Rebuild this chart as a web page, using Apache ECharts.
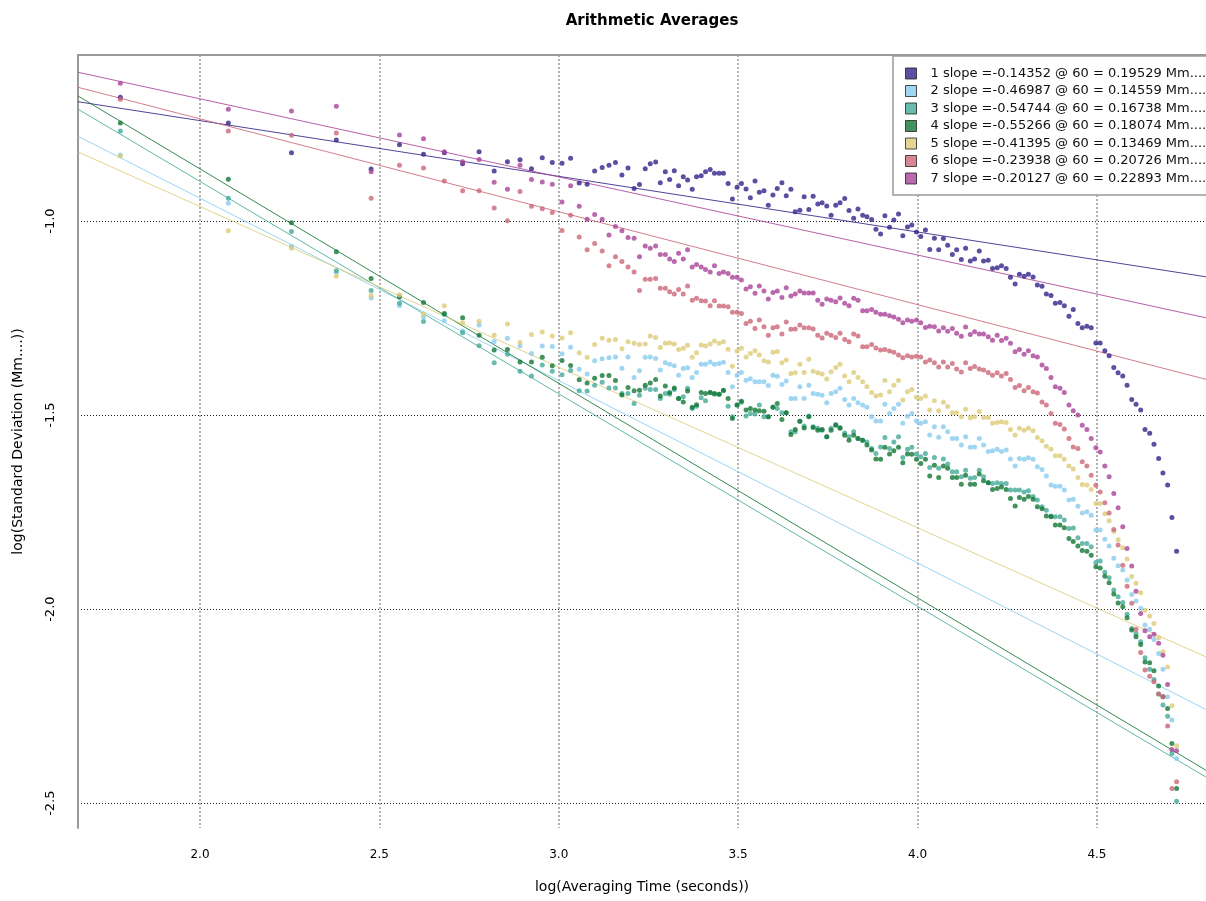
<!DOCTYPE html>
<html>
<head>
<meta charset="utf-8">
<title>Arithmetic Averages</title>
<script src="https://cdn.jsdelivr.net/npm/echarts@6/dist/echarts.min.js"></script>
<style>
  html, body { margin: 0; padding: 0; background: #fff; }
  #chart { width: 1206px; height: 901px; }
</style>
</head>
<body>
<div id="chart"></div>
<script>
// log10 of averaging time (seconds), shared by all seven series
const logTime = [
  1.778, 2.079, 2.255, 2.380, 2.477, 2.556, 2.623, 2.681, 2.732, 2.778,
  2.820, 2.857, 2.892, 2.924, 2.954, 2.982, 3.009, 3.033, 3.057, 3.079,
  3.100, 3.121, 3.140, 3.158, 3.176, 3.193, 3.210, 3.225, 3.241, 3.255,
  3.270, 3.283, 3.297, 3.309, 3.322, 3.334, 3.347, 3.359, 3.372, 3.384,
  3.397, 3.409, 3.422, 3.434, 3.447, 3.459, 3.472, 3.484, 3.497, 3.509,
  3.522, 3.534, 3.547, 3.559, 3.572, 3.584, 3.597, 3.609, 3.622, 3.634,
  3.647, 3.659, 3.672, 3.684, 3.697, 3.709, 3.722, 3.734, 3.747, 3.759,
  3.772, 3.784, 3.797, 3.809, 3.822, 3.834, 3.847, 3.859, 3.872, 3.884,
  3.897, 3.909, 3.922, 3.934, 3.947, 3.959, 3.972, 3.984, 3.997, 4.009,
  4.022, 4.034, 4.047, 4.059, 4.072, 4.084, 4.097, 4.109, 4.122, 4.134,
  4.147, 4.159, 4.172, 4.184, 4.197, 4.209, 4.222, 4.234, 4.247, 4.259,
  4.272, 4.284, 4.297, 4.309, 4.322, 4.334, 4.347, 4.359, 4.372, 4.384,
  4.397, 4.409, 4.422, 4.434, 4.447, 4.459, 4.472, 4.484, 4.497, 4.509,
  4.522, 4.534, 4.547, 4.559, 4.572, 4.584, 4.597, 4.609, 4.622, 4.634,
  4.647, 4.659, 4.672, 4.684, 4.697, 4.709, 4.722
];

// log10 of standard deviation, one array per series
const sd1 = [
  -0.681, -0.747, -0.824, -0.791, -0.866, -0.803, -0.828, -0.824, -0.852, -0.821,
  -0.871, -0.847, -0.842, -0.865, -0.837, -0.849, -0.851, -0.838, -0.902, -0.905,
  -0.871, -0.862, -0.856, -0.849, -0.881, -0.863, -0.916, -0.906, -0.865, -0.852,
  -0.848, -0.901, -0.873, -0.893, -0.870, -0.909, -0.886, -0.894, -0.918, -0.886,
  -0.883, -0.873, -0.867, -0.877, -0.877, -0.877, -0.903, -0.943, -0.913, -0.903,
  -0.917, -0.940, -0.897, -0.926, -0.922, -0.959, -0.933, -0.916, -0.901, -0.935,
  -0.918, -0.976, -0.972, -0.937, -0.970, -0.936, -0.956, -0.953, -0.961, -0.985,
  -0.959, -0.953, -0.942, -0.973, -0.993, -0.969, -0.985, -0.989, -0.996, -1.021,
  -1.033, -0.986, -1.016, -0.997, -0.982, -1.038, -1.015, -1.010, -1.028, -1.040,
  -1.023, -1.073, -1.044, -1.074, -1.045, -1.062, -1.086, -1.074, -1.099, -1.070,
  -1.103, -1.098, -1.077, -1.103, -1.101, -1.122, -1.120, -1.115, -1.122, -1.145,
  -1.162, -1.137, -1.142, -1.137, -1.144, -1.165, -1.168, -1.188, -1.192, -1.212,
  -1.210, -1.218, -1.245, -1.228, -1.264, -1.275, -1.271, -1.275, -1.314, -1.314,
  -1.334, -1.347, -1.377, -1.391, -1.399, -1.423, -1.460, -1.472, -1.487, -1.537,
  -1.547, -1.575, -1.612, -1.649, -1.680, -1.764, -1.851
];
const sd2 = [
  -0.830, -0.954, -1.065, -1.132, -1.198, -1.218, -1.247, -1.257, -1.283, -1.268,
  -1.310, -1.302, -1.322, -1.341, -1.322, -1.323, -1.342, -1.325, -1.382, -1.394,
  -1.360, -1.355, -1.352, -1.350, -1.379, -1.350, -1.403, -1.386, -1.351, -1.350,
  -1.354, -1.384, -1.365, -1.369, -1.373, -1.397, -1.380, -1.378, -1.403, -1.390,
  -1.369, -1.369, -1.363, -1.369, -1.367, -1.364, -1.390, -1.427, -1.397, -1.390,
  -1.410, -1.406, -1.414, -1.414, -1.414, -1.424, -1.397, -1.400, -1.421, -1.412,
  -1.457, -1.457, -1.427, -1.457, -1.423, -1.444, -1.446, -1.449, -1.468, -1.444,
  -1.440, -1.431, -1.460, -1.474, -1.457, -1.468, -1.474, -1.480, -1.504, -1.515,
  -1.515, -1.472, -1.496, -1.483, -1.472, -1.521, -1.503, -1.496, -1.515, -1.521,
  -1.517, -1.551, -1.530, -1.557, -1.530, -1.543, -1.560, -1.560, -1.577, -1.556,
  -1.583, -1.582, -1.560, -1.577, -1.594, -1.592, -1.588, -1.594, -1.590, -1.613,
  -1.631, -1.612, -1.614, -1.610, -1.614, -1.633, -1.640, -1.657, -1.680, -1.683,
  -1.683, -1.693, -1.719, -1.717, -1.735, -1.752, -1.749, -1.758, -1.796, -1.796,
  -1.820, -1.837, -1.869, -1.888, -1.899, -1.925, -1.962, -1.979, -1.998, -2.041,
  -2.052, -2.078, -2.114, -2.155, -2.226, -2.286, -2.385
];
const sd3 = [
  -0.768, -0.941, -1.027, -1.128, -1.179, -1.212, -1.259, -1.241, -1.288, -1.321,
  -1.365, -1.343, -1.387, -1.399, -1.371, -1.387, -1.396, -1.385, -1.437, -1.438,
  -1.423, -1.415, -1.430, -1.430, -1.444, -1.444, -1.470, -1.449, -1.431, -1.434,
  -1.434, -1.457, -1.444, -1.446, -1.434, -1.457, -1.453, -1.431, -1.483, -1.477,
  -1.455, -1.463, -1.442, -1.446, -1.446, -1.437, -1.477, -1.504, -1.474, -1.467,
  -1.502, -1.496, -1.497, -1.474, -1.504, -1.504, -1.479, -1.483, -1.494, -1.494,
  -1.543, -1.543, -1.516, -1.528, -1.502, -1.530, -1.534, -1.539, -1.556, -1.534,
  -1.524, -1.532, -1.546, -1.556, -1.543, -1.560, -1.565, -1.569, -1.586, -1.599,
  -1.582, -1.558, -1.586, -1.569, -1.556, -1.609, -1.588, -1.583, -1.600, -1.607,
  -1.599, -1.635, -1.609, -1.637, -1.613, -1.626, -1.646, -1.646, -1.659, -1.642,
  -1.663, -1.661, -1.642, -1.659, -1.674, -1.676, -1.674, -1.676, -1.676, -1.693,
  -1.693, -1.693, -1.698, -1.695, -1.710, -1.719, -1.736, -1.745, -1.760, -1.762,
  -1.762, -1.770, -1.792, -1.791, -1.816, -1.831, -1.831, -1.839, -1.880, -1.876,
  -1.905, -1.919, -1.951, -1.968, -1.983, -2.013, -2.050, -2.063, -2.084, -2.125,
  -2.155, -2.181, -2.219, -2.247, -2.276, -2.372, -2.495
];
const sd4 = [
  -0.747, -0.892, -1.004, -1.079, -1.148, -1.195, -1.210, -1.238, -1.249, -1.294,
  -1.332, -1.331, -1.363, -1.363, -1.351, -1.373, -1.359, -1.372, -1.409, -1.417,
  -1.405, -1.398, -1.398, -1.411, -1.448, -1.429, -1.437, -1.436, -1.423, -1.417,
  -1.408, -1.451, -1.425, -1.442, -1.430, -1.457, -1.466, -1.438, -1.480, -1.473,
  -1.442, -1.444, -1.442, -1.444, -1.446, -1.436, -1.457, -1.509, -1.474, -1.464,
  -1.487, -1.483, -1.487, -1.489, -1.490, -1.504, -1.480, -1.470, -1.511, -1.494,
  -1.550, -1.537, -1.516, -1.533, -1.504, -1.532, -1.539, -1.537, -1.556, -1.539,
  -1.526, -1.534, -1.552, -1.565, -1.552, -1.560, -1.565, -1.577, -1.590, -1.613,
  -1.614, -1.583, -1.600, -1.592, -1.583, -1.623, -1.600, -1.601, -1.614, -1.625,
  -1.614, -1.657, -1.629, -1.661, -1.631, -1.637, -1.661, -1.661, -1.678, -1.655,
  -1.678, -1.678, -1.652, -1.669, -1.674, -1.692, -1.689, -1.685, -1.692, -1.715,
  -1.734, -1.712, -1.717, -1.710, -1.717, -1.736, -1.741, -1.760, -1.762, -1.783,
  -1.783, -1.790, -1.818, -1.826, -1.837, -1.849, -1.851, -1.861, -1.891, -1.894,
  -1.915, -1.932, -1.961, -1.984, -1.994, -2.022, -2.054, -2.071, -2.091, -2.136,
  -2.138, -2.159, -2.198, -2.226, -2.256, -2.346, -2.462
];
const sd5 = [
  -0.832, -1.025, -1.070, -1.142, -1.192, -1.190, -1.240, -1.218, -1.262, -1.258,
  -1.294, -1.265, -1.313, -1.292, -1.286, -1.296, -1.301, -1.288, -1.339, -1.351,
  -1.318, -1.302, -1.307, -1.305, -1.329, -1.311, -1.315, -1.318, -1.317, -1.296,
  -1.300, -1.326, -1.315, -1.314, -1.317, -1.331, -1.328, -1.320, -1.351, -1.339,
  -1.319, -1.322, -1.317, -1.309, -1.315, -1.311, -1.330, -1.374, -1.335, -1.328,
  -1.350, -1.341, -1.334, -1.345, -1.360, -1.363, -1.338, -1.336, -1.365, -1.358,
  -1.393, -1.391, -1.369, -1.390, -1.356, -1.387, -1.391, -1.394, -1.407, -1.388,
  -1.377, -1.369, -1.399, -1.414, -1.390, -1.403, -1.414, -1.427, -1.442, -1.451,
  -1.448, -1.411, -1.440, -1.423, -1.411, -1.461, -1.440, -1.434, -1.454, -1.457,
  -1.451, -1.487, -1.463, -1.489, -1.467, -1.478, -1.494, -1.494, -1.504, -1.485,
  -1.507, -1.504, -1.491, -1.506, -1.506, -1.521, -1.519, -1.517, -1.519, -1.537,
  -1.551, -1.534, -1.539, -1.534, -1.540, -1.558, -1.566, -1.580, -1.588, -1.605,
  -1.605, -1.614, -1.631, -1.639, -1.661, -1.679, -1.680, -1.692, -1.728, -1.728,
  -1.754, -1.772, -1.800, -1.821, -1.842, -1.871, -1.916, -1.933, -1.958, -2.003,
  -2.018, -2.037, -2.074, -2.110, -2.149, -2.249, -2.352
];
const sd6 = [
  -0.686, -0.768, -0.779, -0.773, -0.941, -0.856, -0.863, -0.897, -0.922, -0.922,
  -0.966, -0.999, -0.924, -0.962, -0.968, -0.978, -1.024, -0.985, -1.041, -1.074,
  -1.058, -1.077, -1.115, -1.092, -1.104, -1.118, -1.131, -1.179, -1.150, -1.150,
  -1.148, -1.173, -1.173, -1.182, -1.188, -1.176, -1.188, -1.167, -1.204, -1.199,
  -1.205, -1.206, -1.218, -1.205, -1.219, -1.219, -1.221, -1.235, -1.235, -1.238,
  -1.264, -1.258, -1.277, -1.255, -1.272, -1.294, -1.275, -1.272, -1.291, -1.260,
  -1.279, -1.278, -1.268, -1.275, -1.275, -1.278, -1.294, -1.301, -1.289, -1.294,
  -1.300, -1.289, -1.305, -1.311, -1.291, -1.296, -1.324, -1.324, -1.318, -1.327,
  -1.332, -1.331, -1.335, -1.338, -1.345, -1.352, -1.347, -1.350, -1.348, -1.350,
  -1.363, -1.358, -1.365, -1.376, -1.363, -1.376, -1.367, -1.381, -1.389, -1.365,
  -1.380, -1.375, -1.381, -1.384, -1.390, -1.397, -1.391, -1.399, -1.393, -1.408,
  -1.429, -1.424, -1.437, -1.429, -1.440, -1.443, -1.466, -1.474, -1.496, -1.521,
  -1.524, -1.536, -1.560, -1.582, -1.586, -1.620, -1.631, -1.655, -1.681, -1.698,
  -1.726, -1.752, -1.795, -1.835, -1.887, -1.941, -1.985, -2.052, -2.112, -2.157,
  -2.173, -2.187, -2.219, -2.226, -2.301, -2.462, -2.445
];
const sd7 = [
  -0.645, -0.712, -0.716, -0.704, -0.873, -0.778, -0.788, -0.821, -0.847, -0.841,
  -0.900, -0.918, -0.856, -0.893, -0.899, -0.905, -0.951, -0.909, -0.962, -0.995,
  -0.983, -0.995, -1.036, -1.014, -1.025, -1.042, -1.044, -1.092, -1.064, -1.070,
  -1.064, -1.086, -1.086, -1.098, -1.104, -1.083, -1.098, -1.074, -1.118, -1.112,
  -1.118, -1.125, -1.131, -1.115, -1.135, -1.131, -1.135, -1.145, -1.145, -1.152,
  -1.175, -1.169, -1.186, -1.167, -1.180, -1.201, -1.184, -1.180, -1.197, -1.172,
  -1.193, -1.188, -1.180, -1.185, -1.185, -1.185, -1.204, -1.214, -1.201, -1.204,
  -1.208, -1.198, -1.212, -1.218, -1.199, -1.204, -1.231, -1.231, -1.228, -1.235,
  -1.240, -1.240, -1.244, -1.247, -1.253, -1.262, -1.255, -1.258, -1.255, -1.262,
  -1.274, -1.271, -1.272, -1.283, -1.275, -1.284, -1.277, -1.289, -1.297, -1.273,
  -1.292, -1.285, -1.291, -1.291, -1.298, -1.307, -1.294, -1.308, -1.302, -1.315,
  -1.337, -1.331, -1.343, -1.334, -1.347, -1.350, -1.371, -1.380, -1.403, -1.427,
  -1.431, -1.442, -1.474, -1.489, -1.500, -1.526, -1.537, -1.560, -1.584, -1.595,
  -1.631, -1.659, -1.702, -1.739, -1.788, -1.844, -1.889, -1.954, -2.011, -2.056,
  -2.071, -2.065, -2.088, -2.119, -2.194, -2.362, -2.365
];

// fitted lines, as printed in the legend
const slopes = [-0.14352, -0.46987, -0.54744, -0.55266, -0.41395, -0.23938, -0.20127];
const at60 = [0.19529, 0.14559, 0.16738, 0.18074, 0.13469, 0.20726, 0.22893];
const colors = ['#332288', '#88ccee', '#44aa99', '#117733', '#ddcc77', '#cc6677', '#aa4499'];

const xMin = 1.66, xMax = 4.804;
const yMin = -2.564, yMax = -0.572;
const font = 'DejaVu Sans';

const chart = echarts.init(document.getElementById('chart'));

const allSd = [sd1, sd2, sd3, sd4, sd5, sd6, sd7];
const names = allSd.map((_, i) =>
  (i + 1) + ' slope =' + slopes[i].toFixed(5) + ' @ 60 = ' + at60[i].toFixed(5) + ' Mm....');

const fitLine = i => {
  const b = Math.log10(at60[i]);
  const x0 = Math.log10(60);
  return [xMin, xMax].map(x => [x, b + slopes[i] * (x - x0)]);
};

const series = [];
allSd.forEach((sd, i) => {
  series.push({
    name: 'fit ' + (i + 1),
    type: 'line',
    data: fitLine(i),
    symbol: 'none',
    lineStyle: { color: colors[i], width: 1, opacity: 0.85 },
    z: 2,
    silent: true
  });
});
allSd.forEach((sd, i) => {
  series.push({
    name: names[i],
    type: 'scatter',
    data: logTime.map((x, k) => [x, sd[k]]),
    symbolSize: 5,
    itemStyle: { color: colors[i] },
    z: 3,
    silent: true
  });
});

chart.setOption({
  animation: false,
  backgroundColor: '#fff',
  title: {
    text: 'Arithmetic Averages',
    left: 647,
    top: 9,
    textAlign: 'center',
    textStyle: { fontFamily: font, fontSize: 15, fontWeight: 'bold', color: '#000' }
  },
  legend: {
    data: names,
    orient: 'vertical',
    left: 893,
    top: 56,
    icon: 'rect',
    itemWidth: 11,
    itemHeight: 11,
    itemGap: 4.5,
    padding: [11, 12, 10, 12],
    backgroundColor: '#fff',
    borderColor: '#999',
    borderWidth: 1.5,
    selectedMode: false,
    itemStyle: { borderColor: '#222', borderWidth: 1 },
    textStyle: { fontFamily: font, fontSize: 13, color: '#111', lineHeight: 13, padding: [0, 0, 0, 9] }
  },
  grid: { left: 78, top: 55, right: 0, bottom: 73 },
  xAxis: [{
    type: 'value',
    min: xMin,
    max: xMax,
    splitNumber: 5,
    name: 'log(Averaging Time (seconds))',
    nameLocation: 'middle',
    nameGap: 52,
    nameTextStyle: { fontFamily: font, fontSize: 14, color: '#000' },
    axisLine: { show: false },
    axisTick: { show: false },
    axisLabel: {
      margin: 21, fontFamily: font, fontSize: 12, color: '#000',
      showMinLabel: false, showMaxLabel: false,
      formatter: v => v.toFixed(1)
    },
    splitLine: {
      show: true, showMinLine: false, showMaxLine: false,
      lineStyle: { color: '#999', width: 1.5, type: [2, 2] }
    }
  }, {
    type: 'value',
    position: 'top',
    min: xMin,
    max: xMax,
    axisLine: { show: true, onZero: false, lineStyle: { color: '#999', width: 2 } },
    axisTick: { show: false },
    axisLabel: { show: false },
    splitLine: { show: false }
  }],
  yAxis: {
    type: 'value',
    min: yMin,
    max: yMax,
    splitNumber: 4,
    name: 'log(Standard Deviation (Mm....))',
    nameLocation: 'middle',
    nameGap: 53,
    nameRotate: 90,
    nameTextStyle: { fontFamily: font, fontSize: 14, color: '#000' },
    axisLine: { show: true, onZero: false, lineStyle: { color: '#999', width: 2 } },
    axisTick: { show: false },
    axisLabel: {
      rotate: 90, margin: 21, fontFamily: font, fontSize: 13, color: '#000',
      showMinLabel: false, showMaxLabel: false,
      formatter: v => v.toFixed(1)
    },
    splitLine: {
      show: true, showMinLine: false, showMaxLine: false,
      lineStyle: { color: '#222', width: 1, type: [1, 2] }
    }
  },
  series: series
});
</script>
</body>
</html>
